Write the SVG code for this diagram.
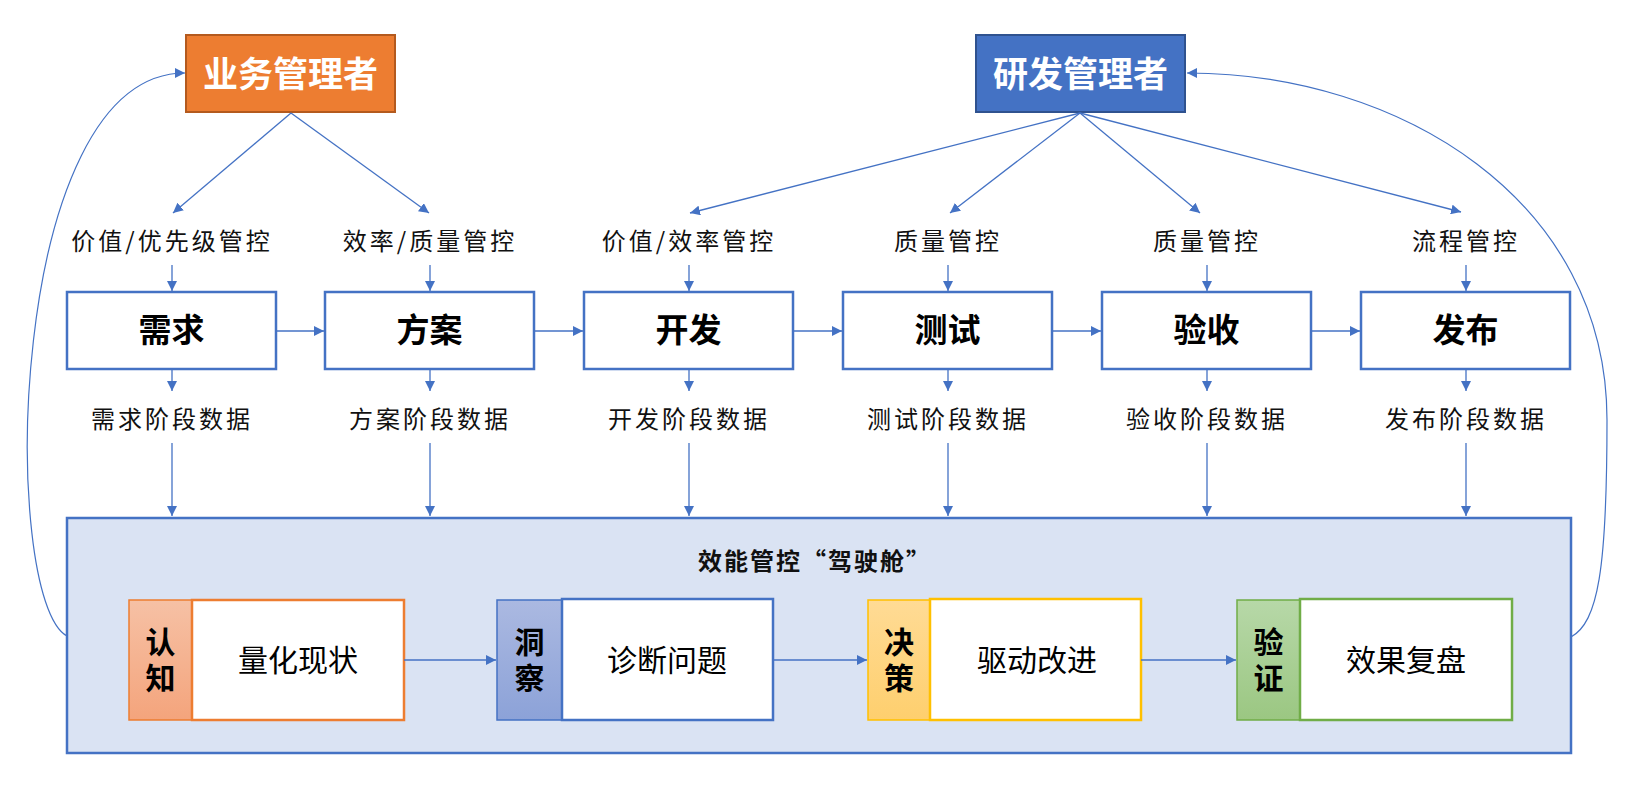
<svg xmlns="http://www.w3.org/2000/svg" width="1635" height="788" viewBox="0 0 1635 788">
<defs>
<marker id="ah" viewBox="0 0 10 10" refX="10" refY="5" markerWidth="10" markerHeight="10" markerUnits="userSpaceOnUse" orient="auto">
<path d="M0,0 L10,5 L0,10 Z" fill="#4472C4"/>
</marker>
<linearGradient id="gOr" x1="0" y1="0" x2="0" y2="1"><stop offset="0" stop-color="#F6C1A5"/><stop offset="1" stop-color="#F4A47C"/></linearGradient>
<linearGradient id="gBl" x1="0" y1="0" x2="0" y2="1"><stop offset="0" stop-color="#ABB9E1"/><stop offset="1" stop-color="#8CA2D8"/></linearGradient>
<linearGradient id="gYe" x1="0" y1="0" x2="0" y2="1"><stop offset="0" stop-color="#FFDB95"/><stop offset="1" stop-color="#FECF6E"/></linearGradient>
<linearGradient id="gGr" x1="0" y1="0" x2="0" y2="1"><stop offset="0" stop-color="#B7D8A8"/><stop offset="1" stop-color="#9BC782"/></linearGradient>
</defs>
<style>
.cn{font-family:"Noto Sans CJK SC","Noto Sans",sans-serif;}
.mgr{font-size:35px;font-weight:700;fill:#fff;text-anchor:middle;}
.stage{fill:#fff;stroke:#4472C4;stroke-width:2.5;}
.stg{font-size:33px;font-weight:700;fill:#000;text-anchor:middle;}
.lbl{font-size:24px;fill:#111;text-anchor:middle;letter-spacing:3px;}
.ttl{font-size:24px;font-weight:700;fill:#111;text-anchor:middle;letter-spacing:2px;}
.tag{font-size:30px;font-weight:700;fill:#000;text-anchor:middle;writing-mode:vertical-rl;letter-spacing:6px;}
.inner{font-size:30px;fill:#000;text-anchor:middle;}
.con{fill:none;stroke:#4472C4;stroke-width:1.3;marker-end:url(#ah);}
.curve{fill:none;stroke:#4472C4;stroke-width:1.2;marker-end:url(#ah);}
</style>
<rect width="1635" height="788" fill="#fff"/>

<g id="cockpit">
<rect x="67" y="518" width="1504" height="235" fill="#DAE3F3" stroke="#4472C4" stroke-width="2.5"/>
<text class="cn ttl" x="815" y="570">效能管控“驾驶舱”</text>
</g>

<g id="biz-mgr">
<rect x="186" y="35" width="209" height="77" fill="#ED7D31" stroke="#B45A1E" stroke-width="2"/>
<text class="cn mgr" x="290.5" y="87">业务管理者</text>
</g>
<g id="rd-mgr">
<rect x="976" y="35" width="209" height="77" fill="#4472C4" stroke="#2F528F" stroke-width="2"/>
<text class="cn mgr" x="1080.5" y="87">研发管理者</text>
</g>

<g id="stage-req"><rect class="stage" x="67" y="292" width="209" height="77"/><text class="cn stg" x="171.5" y="342">需求</text></g>
<g id="stage-plan"><rect class="stage" x="325" y="292" width="209" height="77"/><text class="cn stg" x="429.5" y="342">方案</text></g>
<g id="stage-dev"><rect class="stage" x="584" y="292" width="209" height="77"/><text class="cn stg" x="688.5" y="342">开发</text></g>
<g id="stage-test"><rect class="stage" x="843" y="292" width="209" height="77"/><text class="cn stg" x="947.5" y="342">测试</text></g>
<g id="stage-acc"><rect class="stage" x="1102" y="292" width="209" height="77"/><text class="cn stg" x="1206.5" y="342">验收</text></g>
<g id="stage-rel"><rect class="stage" x="1361" y="292" width="209" height="77"/><text class="cn stg" x="1465.5" y="342">发布</text></g>

<g id="ctrl-labels">
<text class="cn lbl" x="172" y="250">价值/优先级管控</text>
<text class="cn lbl" x="430" y="250">效率/质量管控</text>
<text class="cn lbl" x="689" y="250">价值/效率管控</text>
<text class="cn lbl" x="948" y="250">质量管控</text>
<text class="cn lbl" x="1207" y="250">质量管控</text>
<text class="cn lbl" x="1466" y="250">流程管控</text>
</g>
<g id="data-labels">
<text class="cn lbl" x="172" y="428">需求阶段数据</text>
<text class="cn lbl" x="430" y="428">方案阶段数据</text>
<text class="cn lbl" x="689" y="428">开发阶段数据</text>
<text class="cn lbl" x="948" y="428">测试阶段数据</text>
<text class="cn lbl" x="1207" y="428">验收阶段数据</text>
<text class="cn lbl" x="1466" y="428">发布阶段数据</text>
</g>

<g id="step-cognition">
<rect x="129" y="600" width="63" height="120" fill="url(#gOr)" stroke="#ED7D31" stroke-width="1.5"/>
<rect x="192" y="600" width="212" height="120" fill="#fff" stroke="#ED7D31" stroke-width="2.5"/>
<text class="cn tag" x="160.5" y="663">认知</text>
<text class="cn inner" x="298" y="671">量化现状</text>
</g>
<g id="step-insight">
<rect x="497" y="600" width="65" height="120" fill="url(#gBl)" stroke="#4472C4" stroke-width="1.5"/>
<rect x="562" y="599" width="211" height="121" fill="#fff" stroke="#4472C4" stroke-width="2.5"/>
<text class="cn tag" x="529.5" y="663">洞察</text>
<text class="cn inner" x="667" y="671">诊断问题</text>
</g>
<g id="step-decision">
<rect x="868" y="600" width="62" height="120" fill="url(#gYe)" stroke="#FFC000" stroke-width="1.5"/>
<rect x="930" y="599" width="211" height="121" fill="#fff" stroke="#FFC000" stroke-width="2.5"/>
<text class="cn tag" x="899" y="663">决策</text>
<text class="cn inner" x="1037" y="671">驱动改进</text>
</g>
<g id="step-verify">
<rect x="1237" y="600" width="63" height="120" fill="url(#gGr)" stroke="#70AD47" stroke-width="1.5"/>
<rect x="1300" y="599" width="212" height="121" fill="#fff" stroke="#70AD47" stroke-width="2.5"/>
<text class="cn tag" x="1268.5" y="663">验证</text>
<text class="cn inner" x="1406" y="671">效果复盘</text>
</g>

<g id="connectors">
<line class="con" x1="291" y1="113" x2="173" y2="213"/>
<line class="con" x1="291" y1="113" x2="429" y2="213"/>
<line class="con" x1="1080" y1="113" x2="690" y2="213"/>
<line class="con" x1="1080" y1="113" x2="950" y2="213"/>
<line class="con" x1="1080" y1="113" x2="1200" y2="213"/>
<line class="con" x1="1080" y1="113" x2="1461" y2="212"/>

<line class="con" x1="172" y1="265" x2="172" y2="291"/>
<line class="con" x1="430" y1="265" x2="430" y2="291"/>
<line class="con" x1="689" y1="265" x2="689" y2="291"/>
<line class="con" x1="948" y1="265" x2="948" y2="291"/>
<line class="con" x1="1207" y1="265" x2="1207" y2="291"/>
<line class="con" x1="1466" y1="265" x2="1466" y2="291"/>

<line class="con" x1="276" y1="331" x2="324" y2="331"/>
<line class="con" x1="534" y1="331" x2="583" y2="331"/>
<line class="con" x1="793" y1="331" x2="842" y2="331"/>
<line class="con" x1="1052" y1="331" x2="1101" y2="331"/>
<line class="con" x1="1311" y1="331" x2="1360" y2="331"/>

<line class="con" x1="172" y1="370" x2="172" y2="391"/>
<line class="con" x1="430" y1="370" x2="430" y2="391"/>
<line class="con" x1="689" y1="370" x2="689" y2="391"/>
<line class="con" x1="948" y1="370" x2="948" y2="391"/>
<line class="con" x1="1207" y1="370" x2="1207" y2="391"/>
<line class="con" x1="1466" y1="370" x2="1466" y2="391"/>

<line class="con" x1="172" y1="443" x2="172" y2="516"/>
<line class="con" x1="430" y1="443" x2="430" y2="516"/>
<line class="con" x1="689" y1="443" x2="689" y2="516"/>
<line class="con" x1="948" y1="443" x2="948" y2="516"/>
<line class="con" x1="1207" y1="443" x2="1207" y2="516"/>
<line class="con" x1="1466" y1="443" x2="1466" y2="516"/>

<line class="con" x1="404" y1="660" x2="496" y2="660"/>
<line class="con" x1="773" y1="660" x2="867" y2="660"/>
<line class="con" x1="1141" y1="660" x2="1236" y2="660"/>

<path class="curve" d="M67,636 C0,600 5,73 185,73"/>
<path class="curve" d="M1571,637 C1598,622 1607,570 1607,420 C1607,200 1400,73 1187,73"/>
</g>
</svg>
